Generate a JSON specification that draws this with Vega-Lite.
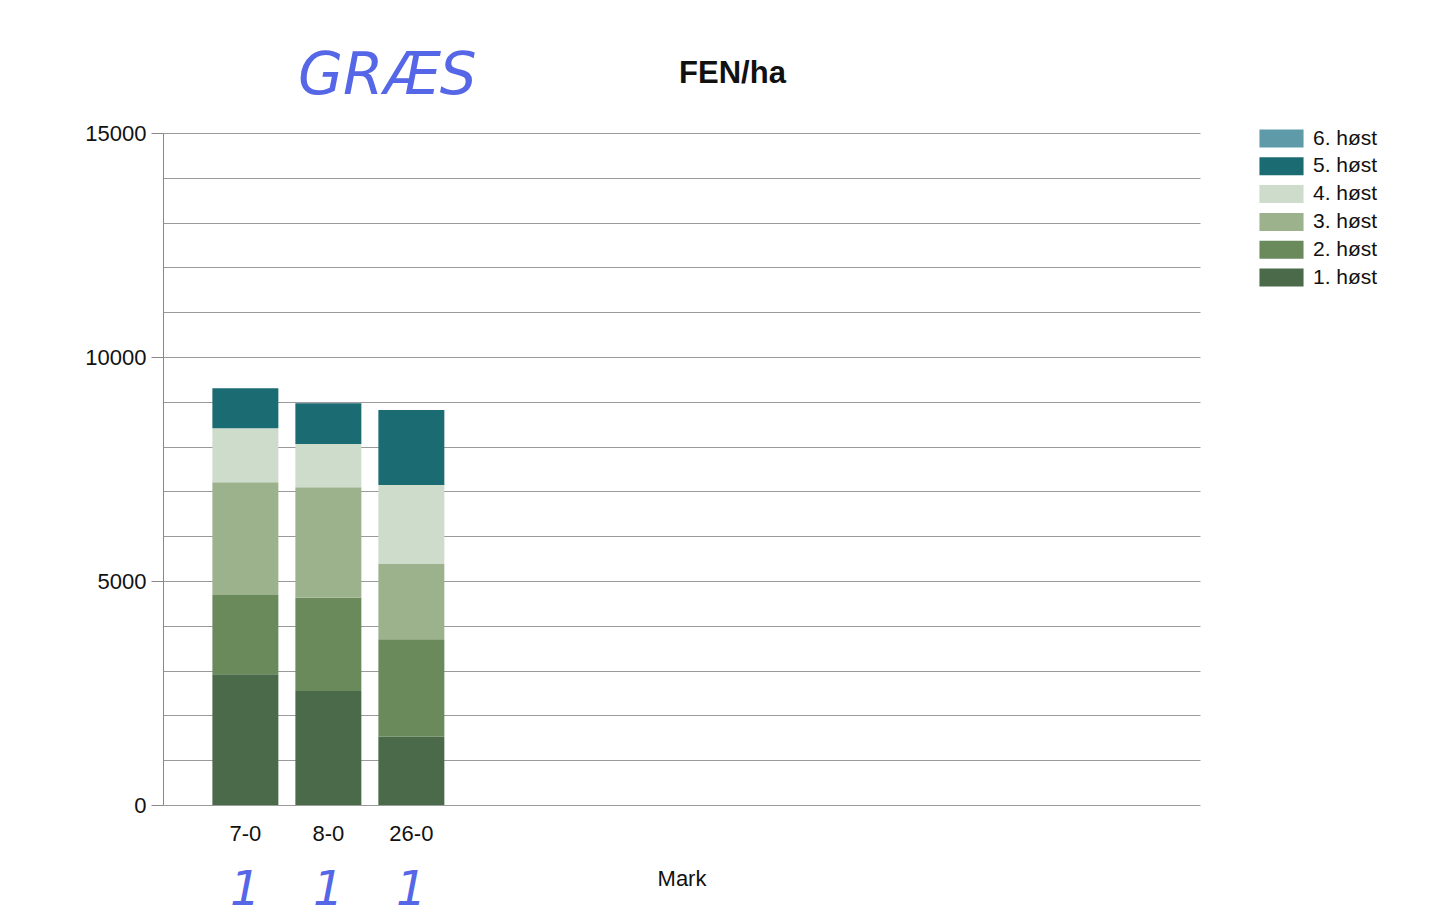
{
  "$schema": "https://vega.github.io/schema/vega-lite/v6.json",
  "width": 1037,
  "height": 672,
  "autosize": {"type": "none"},
  "padding": {"left": 163, "top": 133, "right": 235, "bottom": 119},
  "background": "white",
  "config": {"view": {"stroke": null}, "font": "Liberation Sans"},
  "title": {
    "text": "FEN/ha",
    "font": "Liberation Sans",
    "fontSize": 31,
    "fontWeight": "bold",
    "color": "#111",
    "dx": 51,
    "offset": -42
  },
  "datasets": {
    "fen": [
      {"Mark": "7-0", "Høst": "1. høst", "FEN": 2920},
      {"Mark": "7-0", "Høst": "2. høst", "FEN": 1770},
      {"Mark": "7-0", "Høst": "3. høst", "FEN": 2515},
      {"Mark": "7-0", "Høst": "4. høst", "FEN": 1205},
      {"Mark": "7-0", "Høst": "5. høst", "FEN": 895},
      {"Mark": "8-0", "Høst": "1. høst", "FEN": 2545},
      {"Mark": "8-0", "Høst": "2. høst", "FEN": 2083},
      {"Mark": "8-0", "Høst": "3. høst", "FEN": 2463},
      {"Mark": "8-0", "Høst": "4. høst", "FEN": 967},
      {"Mark": "8-0", "Høst": "5. høst", "FEN": 908},
      {"Mark": "26-0", "Høst": "1. høst", "FEN": 1525},
      {"Mark": "26-0", "Høst": "2. høst", "FEN": 2173},
      {"Mark": "26-0", "Høst": "3. høst", "FEN": 1681},
      {"Mark": "26-0", "Høst": "4. høst", "FEN": 1764},
      {"Mark": "26-0", "Høst": "5. høst", "FEN": 1674}
    ],
    "ones": [
      {"Mark": "7-0", "note": "1"},
      {"Mark": "8-0", "note": "1"},
      {"Mark": "26-0", "note": "1"}
    ],
    "graes": [
      {"note": "GRÆS"}
    ]
  },
  "layer": [
    {
      "data": {"name": "fen"},
      "mark": {"type": "bar", "strokeWidth": 0},
      "encoding": {
        "x": {
          "field": "Mark",
          "type": "nominal",
          "scale": {
            "domain": ["7-0", "8-0", "26-0", "_4", "_5", "_6", "_7", "_8", "_9", "_10", "_11"],
            "paddingInner": 0.205,
            "paddingOuter": 0.85,
            "align": 0.35
          },
          "axis": {
            "title": "Mark",
            "titleFontSize": 22,
            "titleFontWeight": "normal",
            "titleColor": "#111",
            "titlePadding": 24,
            "labelFontSize": 22,
            "labelColor": "#111",
            "labelAngle": 0,
            "labelPadding": 18,
            "labelExpr": "indexof(['7-0','8-0','26-0'], datum.value) >= 0 ? datum.value : ''",
            "ticks": false,
            "domain": false,
            "grid": false
          }
        },
        "y": {
          "field": "FEN",
          "type": "quantitative",
          "stack": "zero",
          "scale": {"domain": [0, 15000], "nice": false},
          "axis": {
            "title": null,
            "values": [0, 1000, 2000, 3000, 4000, 5000, 6000, 7000, 8000, 9000, 10000, 11000, 12000, 13000, 14000, 15000],
            "labelExpr": "datum.value % 5000 === 0 ? datum.value + '' : ''",
            "labelFontSize": 22,
            "labelColor": "#111",
            "labelPadding": 5,
            "tickSize": 12,
            "tickColor": "#888",
            "tickOpacity": {"condition": {"test": "datum.value % 5000 === 0", "value": 1}, "value": 0},
            "domainColor": "#888",
            "gridColor": "#9a9a9a",
            "gridWidth": 1
          }
        },
        "color": {
          "field": "Høst",
          "type": "nominal",
          "scale": {
            "domain": ["6. høst", "5. høst", "4. høst", "3. høst", "2. høst", "1. høst"],
            "range": ["#5e9aa8", "#1b6b73", "#cddccb", "#9cb28d", "#6a8a5c", "#4a6a4a"]
          },
          "legend": {
            "title": null,
            "orient": "none",
            "legendX": 1108,
            "legendY": -5,
            "padding": 0,
            "symbolType": "M-2.45,-1H2.45V1H-2.45Z",
            "symbolSize": 324,
            "symbolStrokeWidth": 0,
            "symbolOpacity": 1,
            "labelFontSize": 21,
            "labelColor": "#111",
            "labelOffset": 21,
            "rowPadding": 5.8
          }
        },
        "order": {"field": "Høst", "sort": "ascending"}
      }
    },
    {
      "data": {"name": "ones"},
      "mark": {"type": "text", "font": "DejaVu Sans", "fontSize": 48, "fontWeight": 200, "fontStyle": "italic", "color": "#5566e6", "baseline": "middle"},
      "encoding": {
        "x": {"field": "Mark", "type": "nominal"},
        "y": {"datum": -1930},
        "text": {"field": "note"}
      }
    },
    {
      "data": {"name": "graes"},
      "mark": {"type": "text", "font": "DejaVu Sans", "fontSize": 58, "fontWeight": 200, "fontStyle": "italic", "color": "#5566e6", "baseline": "middle", "dx": 59},
      "encoding": {
        "x": {"datum": "8-0"},
        "y": {"datum": 16250},
        "text": {"field": "note"}
      }
    }
  ]
}
